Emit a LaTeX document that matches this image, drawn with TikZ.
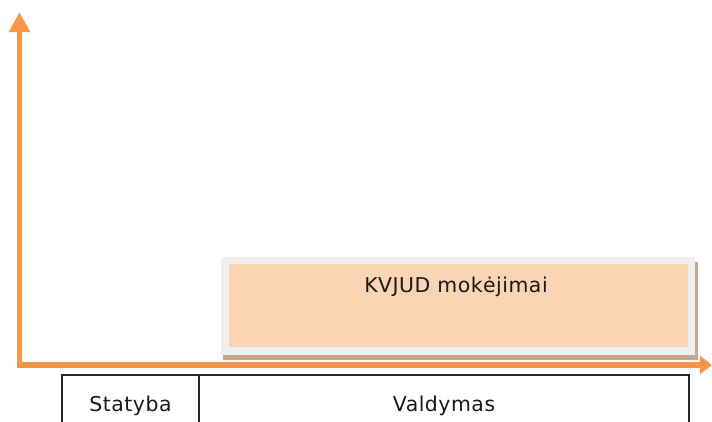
\documentclass[tikz,border=0pt]{standalone}
\usepackage{fontspec}
\setmainfont{DejaVu Sans}
\newfontfamily\labelfont[LetterSpace=2.5]{DejaVu Sans}
\usetikzlibrary{arrows.meta}

\definecolor{axisorange}{HTML}{F79646}
\definecolor{paymentfill}{HTML}{FBD4B4}
\definecolor{paymentframe}{HTML}{EFEFEF}
\definecolor{paymentshadow}{HTML}{C8A88B}
\definecolor{gridline}{HTML}{262626}

\tikzset{
  axisline/.style={draw=axisorange, line width=5.5bp, line join=miter,
    {Triangle[length=20bp,width=20bp]}-{Triangle[length=12bp,width=18bp]}},
  paybox/.style={draw=paymentframe, fill=paymentfill, line width=7.5bp,
    rectangle, inner sep=0pt, outer sep=0pt,
    minimum width=466.5bp, minimum height=90.5bp},
  paytext/.style={font=\labelfont\fontsize{20.5}{24}\selectfont, text=black!90,
    inner sep=0pt, anchor=base},
  phasecell/.style={draw=gridline, line width=1.6bp, rectangle,
    inner xsep=0pt, inner ysep=0pt, outer sep=0pt,
    text height=36bp, text depth=30bp, anchor=north west,
    font=\labelfont\fontsize{20.5}{24}\selectfont, text=black!90}
}

\begin{document}
\begin{tikzpicture}[x=1bp, y=1bp]
  \clip (0,0) rectangle (712,421);
  \fill[white] (0,0) rectangle (712,421);

  % payment period block with its drop shadow
  \fill[paymentshadow] (223,61) rectangle (698,159);
  \node[paybox] (pay) at (458.25,115.25) {};
  \node[paytext] (paylabel) at (456,129) {KVJUD mokėjimai};

  % time axis and value axis
  \coordinate (origin) at (19.5,56);
  \coordinate (ytop) at (19.5,409);
  \coordinate (xend) at (712,56);
  \draw[axisline] (ytop) -- (origin) -- (xend);

  % project phases
  \node[phasecell, minimum width=137bp] (build) at (62,46) {Statyba};
  \node[phasecell, minimum width=490bp] (manage) at (build.north east) {Valdymas};
\end{tikzpicture}
\end{document}
